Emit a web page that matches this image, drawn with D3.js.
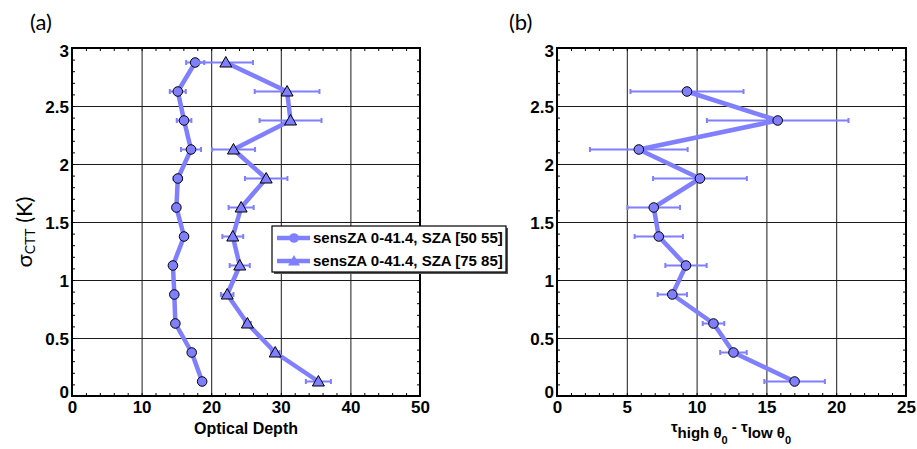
<!DOCTYPE html>
<html>
<head>
<meta charset="utf-8">
<script src="https://cdn.jsdelivr.net/npm/d3@7"></script>
<style>
  html, body { margin: 0; padding: 0; background: #fff; }
  svg { display: block; }
</style>
</head>
<body>
<svg id="chart" width="917" height="449"></svg>
<script>
// Cloud-top temperature variability bins (K), bin centres
const sigmaBins = [0.125, 0.375, 0.625, 0.875, 1.125, 1.375, 1.625, 1.875, 2.125, 2.375, 2.625, 2.875];

// Panel (a): mean optical depth per bin, two solar zenith angle ranges
const tauSza5055 = [18.7, 17.2, 14.85, 14.7, 14.5, 16.1, 15.0, 15.2, 17.1, 16.1, 15.2, 17.7];
const tauSza5055Err = [0.4, 0.4, 0.4, 0.4, 0.4, 0.5, 0.5, 0.6, 1.44, 1.05, 1.15, 1.3];
const tauSza7585 = [35.4, 29.2, 25.2, 22.3, 24.1, 23.1, 24.3, 27.9, 23.2, 31.4, 30.9, 22.1];
const tauSza7585Err = [1.8, 0.6, 0.5, 0.9, 1.45, 1.5, 1.8, 3.05, 3.1, 4.45, 4.65, 3.9];

// Panel (b): optical depth difference, high minus low sun angle
const diffBins = [0.125, 0.375, 0.625, 0.875, 1.125, 1.375, 1.625, 1.875, 2.125, 2.375, 2.625];
const tauDiff = [17.02, 12.64, 11.21, 8.26, 9.24, 7.29, 6.93, 10.24, 5.86, 15.81, 9.31];
const tauDiffErr = [2.17, 0.95, 0.77, 1.05, 1.48, 1.73, 1.88, 3.36, 3.5, 5.07, 4.05];

// Axis ticks
const yMajor = [0, 0.5, 1, 1.5, 2, 2.5, 3];
const yTickLabels = ["0", "0.5", "1", "1.5", "2", "2.5", "3"];
const xMajorA = [0, 10, 20, 30, 40, 50];
const xMajorB = [0, 5, 10, 15, 20, 25];
const legendLabels = ["sensZA 0-41.4, SZA [50 55]", "sensZA 0-41.4, SZA [75 85]"];

const seriesColor = "#7f7fff";
const boldFont = "'Liberation Sans', Arial, sans-serif";
const svg = d3.select("#chart");

const y = d3.scaleLinear().domain([0, 3]).range([396, 48]);
const xA = d3.scaleLinear().domain([0, 50]).range([72, 420]);
const xB = d3.scaleLinear().domain([0, 25]).range([557, 906]);

function range(a, b, step) {
  const out = [];
  for (let v = a; v <= b + 1e-9; v += step) out.push(+v.toFixed(4));
  return out;
}

function styleTickText(s) {
  s.selectAll(".tick text")
    .style("font-family", boldFont).style("font-weight", "bold")
    .style("font-size", "17px").style("fill", "#000");
}

function drawFrame(x, xMajor, minorStep) {
  const [x0, x1] = x.range();
  const [y0, y1] = y.range();
  const g = svg.append("g");
  const w = x1 - x0, h = y0 - y1;

  // major grid
  g.append("g").attr("transform", `translate(0,${y0})`)
    .call(d3.axisBottom(x).tickValues(xMajor).tickSize(-h).tickFormat(""))
    .call(s => s.select(".domain").remove())
    .call(s => s.selectAll("line").attr("stroke", "#1a1a1a").attr("stroke-width", 1));
  g.append("g").attr("transform", `translate(${x0},0)`)
    .call(d3.axisLeft(y).tickValues(yMajor).tickSize(-w).tickFormat(""))
    .call(s => s.select(".domain").remove())
    .call(s => s.selectAll("line").attr("stroke", "#1a1a1a").attr("stroke-width", 1));

  // minor ticks on all four sides, pointing inward
  const xMinor = range(x.domain()[0], x.domain()[1], minorStep);
  const yMinor = range(0, 3, 0.1);
  const minorStyle = s => {
    s.select(".domain").remove();
    s.selectAll("line").attr("stroke", "#000").attr("stroke-width", 1);
  };
  g.append("g").attr("transform", `translate(0,${y0})`)
    .call(d3.axisBottom(x).tickValues(xMinor).tickSize(-3).tickFormat("")).call(minorStyle);
  g.append("g").attr("transform", `translate(0,${y1})`)
    .call(d3.axisTop(x).tickValues(xMinor).tickSize(-3).tickFormat("")).call(minorStyle);
  g.append("g").attr("transform", `translate(${x0},0)`)
    .call(d3.axisLeft(y).tickValues(yMinor).tickSize(-3).tickFormat("")).call(minorStyle);
  g.append("g").attr("transform", `translate(${x1},0)`)
    .call(d3.axisRight(y).tickValues(yMinor).tickSize(-3).tickFormat("")).call(minorStyle);

  // tick labels
  g.append("g").attr("transform", `translate(0,${y0})`)
    .call(d3.axisBottom(x).tickValues(xMajor).tickSize(0).tickPadding(5).tickFormat(d3.format("d")))
    .call(s => s.select(".domain").remove())
    .call(styleTickText);
  g.append("g").attr("transform", `translate(${x0},0)`)
    .call(d3.axisLeft(y).tickValues(yMajor).tickSize(0).tickPadding(3)
      .tickFormat((d, i) => yTickLabels[i]))
    .call(s => s.select(".domain").remove())
    .call(styleTickText)
    .call(s => s.selectAll(".tick text").attr("dy", d => d === 3 ? "0.52em" : d === 0 ? "0.1em" : "0.4em"));

  // outer frame
  g.append("rect").attr("x", x0).attr("y", y1).attr("width", w).attr("height", h)
    .attr("fill", "none").attr("stroke", "#000").attr("stroke-width", 2);
}

function drawSeries(x, ys, xs, errs, marker) {
  const pts = ys.map((yy, i) => ({ y: yy, x: xs[i], e: errs[i] }));
  const g = svg.append("g");
  g.append("path").datum(pts)
    .attr("d", d3.line().x(d => x(d.x)).y(d => y(d.y)))
    .attr("fill", "none").attr("stroke", seriesColor).attr("stroke-width", 4.5)
    .attr("stroke-linejoin", "round");

  const eb = g.selectAll(".eb").data(pts).join("g");
  eb.append("line")
    .attr("x1", d => x(d.x - d.e)).attr("x2", d => x(d.x + d.e))
    .attr("y1", d => y(d.y)).attr("y2", d => y(d.y))
    .attr("stroke", seriesColor).attr("stroke-width", 2);
  [-1, 1].forEach(sg => {
    eb.append("line")
      .attr("x1", d => x(d.x + sg * d.e)).attr("x2", d => x(d.x + sg * d.e))
      .attr("y1", d => y(d.y) - 2.5).attr("y2", d => y(d.y) + 2.5)
      .attr("stroke", seriesColor).attr("stroke-width", 2);
  });

  g.selectAll(".mk").data(pts).join("path")
    .attr("transform", d => `translate(${x(d.x)},${y(d.y)})`)
    .attr("d", marker)
    .attr("fill", seriesColor).attr("stroke", "#000").attr("stroke-width", 1);
}

const circleMarker = d3.symbol(d3.symbolCircle, 72)();
const triMarker = "M0,-6L6,4.5L-6,4.5Z";

// Panel (a)
drawFrame(xA, xMajorA, 2);
drawSeries(xA, sigmaBins, tauSza5055, tauSza5055Err, circleMarker);
drawSeries(xA, sigmaBins, tauSza7585, tauSza7585Err, triMarker);

// Panel (b)
drawFrame(xB, xMajorB, 1);
drawSeries(xB, diffBins, tauDiff, tauDiffErr, circleMarker);

// Legend for panel (a)
const lg = svg.append("g").attr("transform", "translate(272,226)");
lg.append("rect").attr("x", 2).attr("y", 2).attr("width", 234).attr("height", 46).attr("fill", "#555");
lg.append("rect").attr("x", 0).attr("y", 0).attr("width", 234).attr("height", 46)
  .attr("fill", "#fff").attr("stroke", "#000").attr("stroke-width", 1.2);
[circleMarker, triMarker].forEach((m, i) => {
  const ry = 12 + i * 23;
  lg.append("line").attr("x1", 5).attr("x2", 38).attr("y1", ry).attr("y2", ry)
    .attr("stroke", seriesColor).attr("stroke-width", 4.5);
  lg.append("path").attr("d", m).attr("transform", `translate(22,${ry})`)
    .attr("fill", seriesColor).attr("stroke", "none");
  lg.append("text").attr("x", 41).attr("y", ry + 5)
    .attr("font-family", boldFont).attr("font-weight", "bold")
    .attr("font-size", 15).text(legendLabels[i]);
});

// Axis titles
svg.append("text").attr("x", 246).attr("y", 434).attr("text-anchor", "middle")
  .attr("font-family", boldFont).attr("font-weight", "bold")
  .attr("font-size", 16).text("Optical Depth");

const xt = svg.append("text").attr("x", 731).attr("y", 432).attr("text-anchor", "middle")
  .attr("font-family", boldFont).attr("font-weight", "bold")
  .attr("font-size", 15);
xt.append("tspan").text("τ");
xt.append("tspan").attr("dy", 6).text("high θ");
xt.append("tspan").attr("dy", 6).attr("font-size", 11).text("0");
xt.append("tspan").attr("dy", -12).text("  -   τ");
xt.append("tspan").attr("dy", 6).text("low θ");
xt.append("tspan").attr("dy", 6).attr("font-size", 11).text("0");

const yt = svg.append("text").attr("transform", "translate(32,232) rotate(-90)")
  .attr("text-anchor", "middle").attr("font-family", "Lato, 'Open Sans', sans-serif")
  .attr("font-size", 22);
yt.append("tspan").text("σ");
yt.append("tspan").attr("dy", 3).attr("font-size", 14).text("CTT");
yt.append("tspan").attr("dy", -3).text(" (K)");

// Panel letters
svg.append("text").attr("x", 30).attr("y", 30).attr("font-family", "Lato, 'Open Sans', sans-serif")
  .attr("font-size", 22).text("(a)");
svg.append("text").attr("x", 509).attr("y", 30).attr("font-family", "Lato, 'Open Sans', sans-serif")
  .attr("font-size", 22).text("(b)");
</script>
</body>
</html>
